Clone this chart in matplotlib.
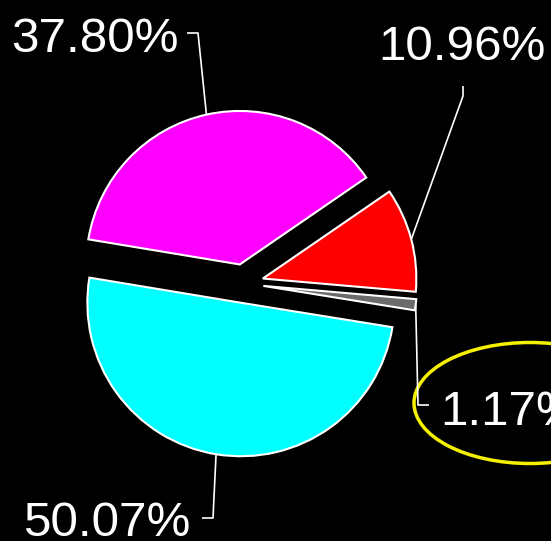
import matplotlib
matplotlib.use("Agg")
import matplotlib.pyplot as plt
from matplotlib.patches import Ellipse
import numpy as np

W, H = 551, 541

# slice shares, clockwise from the red one
labels = ["10.96%", "1.17%", "50.07%", "37.80%"]
shares = [10.96, 1.17, 50.07, 37.80]
colors = ["#ff0000", "#6b6b6b", "#00ffff", "#ff00ff"]

# label layout in pixel coords: text anchor, alignment, elbow path from arc outward
label_pos = [(462, 60), (440, 425), (190, 536), (179, 52)]
label_ha = ["center", "left", "right", "right"]
elbows = [
    [(463, 96), (463, 86)],
    [(418, 405), (429, 405)],
    [(213, 518), (202, 518)],
    [(198, 33), (187, 33)],
]

plt.rcParams["font.family"] = ["Liberation Sans", "DejaVu Sans"]

fig = plt.figure(figsize=(W / 100, H / 100), dpi=100, facecolor="black")
ax = fig.add_axes([0, 0, 1, 1])
ax.set_facecolor("black")

def py(y):
    # pixel row to data y (y axis points up)
    return H - y

radius = 153.5
# explode is in data units here since radius != 1
wedges, _ = ax.pie(shares, colors=colors, center=(244, py(283.5)), radius=radius,
                   explode=[19.5] * len(shares), startangle=34.5, counterclock=False,
                   wedgeprops=dict(edgecolor="white", linewidth=1.5))

for w, lab, (tx, ty), ha, elb in zip(wedges, labels, label_pos, label_ha, elbows):
    mid = np.deg2rad((w.theta1 + w.theta2) / 2)
    cx, cy = w.center
    ax_, ay_ = cx + w.r * np.cos(mid), cy + w.r * np.sin(mid)
    xs = [ax_] + [p[0] for p in elb]
    ys = [ay_] + [py(p[1]) for p in elb]
    ax.plot(xs, ys, color="white", lw=1.2, solid_capstyle="butt")
    ax.text(tx, py(ty), lab, color="white", fontsize=35.6, ha=ha, va="baseline")

ax.add_patch(Ellipse((530, py(403)), 232, 121, fill=False, edgecolor="#f5f000",
                     lw=2.5, clip_on=False))

ax.set_xlim(0, W)
ax.set_ylim(0, H)
ax.set_aspect("equal")
ax.axis("off")

fig.savefig("out.png", dpi=100, facecolor="black")
